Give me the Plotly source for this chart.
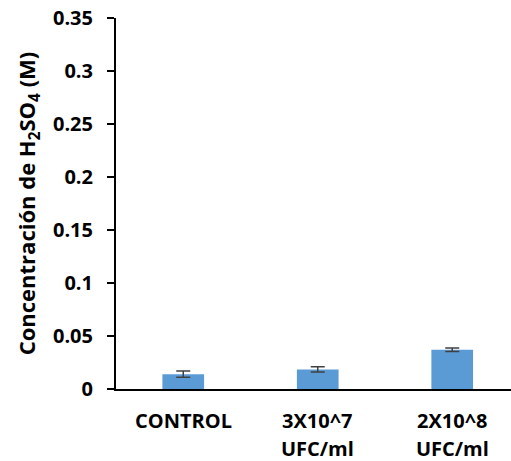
import plotly.graph_objects as go

# Data
categories = ["CONTROL", "3X10^7", "2X10^8"]
category_units = ["", "UFC/ml", "UFC/ml"]
concentration = [0.014, 0.0185, 0.037]
error = [0.003, 0.0025, 0.0017]
ytick_vals = [0, 0.05, 0.1, 0.15, 0.2, 0.25, 0.3, 0.35]
ytick_text = ["0", "0.05", "0.1", "0.15", "0.2", "0.25", "0.3", "0.35"]

FONT = "Open Sans"
positions = list(range(len(categories)))

fig = go.Figure()
fig.add_trace(go.Bar(
    x=positions,
    y=concentration,
    width=0.31,
    marker=dict(color="#5B9BD5", line=dict(width=0)),
    error_y=dict(type="data", array=error, visible=True,
                 color="#404040", thickness=1.5, width=7),
))

# Category labels (two lines with wide spacing)
for xi, (cat, unit) in enumerate(zip(categories, category_units)):
    fig.add_annotation(x=xi, y=-0.086, xref="x", yref="paper", text=f"<b>{cat}</b>",
                       showarrow=False, font=dict(family=FONT, size=20, color="black"),
                       xanchor="center", yanchor="middle")
    if unit:
        fig.add_annotation(x=xi, y=-0.160, xref="x", yref="paper", text=f"<b>{unit}</b>",
                           showarrow=False, font=dict(family=FONT, size=20, color="black"),
                           xanchor="center", yanchor="middle")

fig.update_layout(
    width=511, height=461,
    margin=dict(l=116, r=0, t=18, b=72),
    plot_bgcolor="white", paper_bgcolor="white",
    showlegend=False,
    font=dict(family=FONT, size=20, color="black"),
    xaxis=dict(
        range=[-0.5, 2.437],
        showticklabels=False, ticks="",
        showline=True, linecolor="black", linewidth=2,
        showgrid=False, zeroline=False, fixedrange=True,
    ),
    yaxis=dict(
        range=[0, 0.35],
        tickvals=ytick_vals, ticktext=[f"<b>{t}</b>" for t in ytick_text],
        ticks="outside", ticklen=7, tickwidth=1.5, tickcolor="black",
        ticklabelstandoff=10,
        showline=True, linecolor="black", linewidth=2,
        showgrid=False, zeroline=False,
        tickfont=dict(family=FONT, size=20, color="black"),
        title=dict(text="<b>Concentración de H<sub>2</sub>SO<sub>4</sub> (M)</b>",
                   font=dict(family=FONT, size=22, color="black"), standoff=11),
    ),
)

fig.write_html("out.html")
